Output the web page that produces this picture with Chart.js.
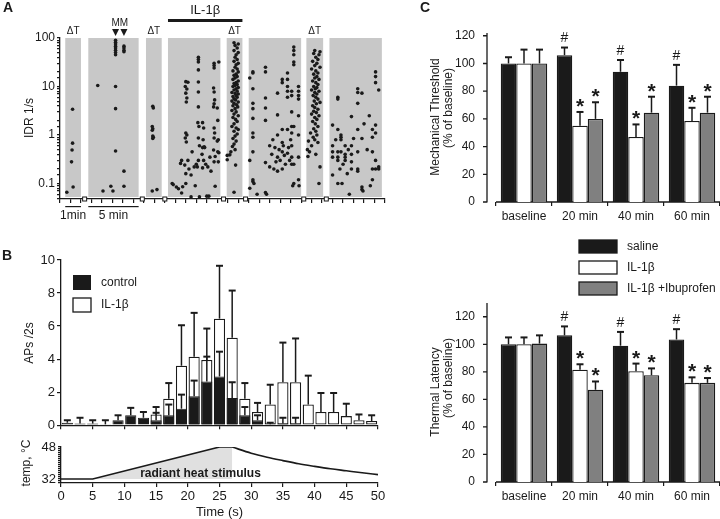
<!DOCTYPE html>
<html>
<head>
<meta charset="utf-8">
<script src="https://cdn.jsdelivr.net/npm/chart.js@4.4.0/dist/chart.umd.min.js"></script>
<style>
  html, body { margin: 0; padding: 0; background: #fff; }
  #fig { position: relative; width: 720px; height: 519px; overflow: hidden; }
  canvas { position: absolute; }
</style>
</head>
<body>
<div id="fig">
  <canvas id="chartA" width="390" height="225" style="left:0;top:0"></canvas>
  <canvas id="chartB" width="390" height="195" style="left:0;top:240px"></canvas>
  <canvas id="chartT" width="390" height="84" style="left:0;top:435px"></canvas>
  <canvas id="chartC1" width="330" height="235" style="left:390px;top:0"></canvas>
  <canvas id="chartC2" width="330" height="284" style="left:390px;top:235px"></canvas>
</div>
<script>
// ---- panel A: instantaneous discharge rate, one list of [time, IDR] per recording block
const bandStart = [0.5, 2.7, 8.2, 10.3, 15.9, 18, 23.5, 25.7];
const bandEnd = [2, 7.5, 9.7, 15.3, 17.4, 23, 25.1, 30.7];
const heatBands = [0, 2, 4, 6];

const idrBand1 = [[1.2,3.4],[1.2,0.68],[1.15,0.49],[1.1,0.28],[1.25,0.085],[0.65,0.066]];
const idrBand2 = [[3.6,10.5],[5.3,90],[5.3,82],[5.3,75],[5.3,68],[5.3,62],[5.3,56],[5.3,50],[5.3,45],
  [5.3,10],[5.3,3.5],[5.3,0.47],[6.1,68],[6.1,62],[6.1,56],[6.1,52],[6.1,0.18],[6.1,0.088],
  [4.1,0.07],[4.85,0.088],[5.05,0.07]];
const idrBand3 = [[8.85,3.9],[8.9,3.6],[8.8,1.5],[8.85,1.35],[8.8,1.25],[8.85,0.95],[8.9,0.9],[8.85,0.85],
  [8.8,0.07],[9.25,0.075]];
const idrBand4 = [[12.0,12.6],[12.2,12.2],[11.95,10],[12.1,8.9],[12.0,7.3],[12.1,5.8],[12.05,4.8],[12.0,1.1],
  [12.1,1.0],[11.95,0.87],[12.05,0.72],[12.2,0.3],[11.9,0.24],[12.3,0.2],[12.0,0.16],
  [13.2,40],[13.2,36],[13.2,32],[13.2,22],[13.2,12.4],[13.2,7.7],[13.2,3.8],[13.15,1.8],[13.25,1.5],
  [13.2,0.87],[13.3,0.6],[13.2,0.3],[13.1,0.22],
  [13.6,1.8],[13.7,1.4],[13.65,0.8],[13.75,0.57],[13.6,0.55],[13.8,0.55],[13.55,0.4],[13.7,0.3],[13.6,0.21],
  [14.7,30],[14.7,27],[14.7,24],[14.65,9.3],[14.7,7.7],[14.75,5.3],[14.7,4.4],[14.65,3.8],[14.7,1.4],
  [14.75,1.1],[14.7,0.87],[14.65,0.49],[14.8,0.36],[14.7,0.28],
  [15.15,32],[15.0,3.6],[15.05,2.0],[15.1,0.8],[15.0,0.75],[15.15,0.43],[15.05,0.45],[15.1,0.28],
  [11.6,0.3],[11.5,0.26],[12.6,0.45],[12.8,0.22],[13.0,0.25],[14.1,0.22],[14.3,0.35],[13.9,0.25],[14.4,0.18],[12.5,0.15],
  [10.7,0.1],[10.8,0.095],[11.1,0.085],[11.3,0.078],[11.6,0.064],[11.7,0.086],[12.0,0.1],[12.5,0.053],
  [12.9,0.09],[13.3,0.053],[14.0,0.055],[14.2,0.055],[14.8,0.088]];
const idrBand5 = [[16.6,80],[17.0,75],[16.7,70],[16.9,62],[16.6,55],[17.0,50],[16.8,45],[16.7,40],[16.9,36],
  [16.6,33],[17.0,30],[16.8,28],[16.7,25],[16.9,23],[16.5,21],[17.0,20],[16.8,18],[16.6,17],[16.9,16],
  [16.7,15],[16.5,14],[17.0,13],[16.8,12],[16.6,11.5],[16.9,11],[16.7,10.5],[16.5,10],[17.0,9.5],[16.8,9],
  [16.6,8.5],[16.9,8],[16.4,7.5],[16.7,7.2],[17.0,7],[16.8,6.5],[16.5,6.2],[16.9,6],[16.6,5.6],[16.75,5.3],
  [16.4,5],[17.0,4.8],[16.6,4.5],[16.85,4.2],[16.5,4],[16.95,3.8],[16.7,3.5],[16.4,3.2],[16.8,3],[16.6,2.7],
  [17.0,2.5],[16.5,2.3],[16.75,2.1],[16.9,1.9],[16.6,1.7],[16.4,1.5],[16.8,1.4],[17.0,1.3],[16.6,1.2],
  [16.9,1.05],[16.7,0.95],[16.5,0.85],[16.8,0.75],[16.6,0.65],[16.45,0.58],[16.7,0.5],[16.3,0.45],
  [16.2,0.39],[16.75,0.24],[16.6,0.066],[15.95,0.38],[15.95,0.31]];
const idrBand6 = [[18.1,15],[18.1,0.3],[18.1,0.08],
  [18.4,20],[18.4,19],[18.4,9],[18.4,4.5],[18.4,3.5],[18.4,2.2],[18.4,1.1],[18.4,0.9],[18.4,0.45],[18.4,0.12],[18.4,0.11],
  [19.6,25],[19.6,20],[19.6,5.8],[19.6,3.6],[19.6,2.0],[19.6,0.27],[19.6,0.065],
  [20.0,0.6],[20.0,0.22],[20.75,7.3],[20.75,2.6],[20.75,1.0],[20.75,0.35],[20.75,0.18],
  [21.2,14],[21.2,12],[21.2,1.3],[21.2,0.7],[21.2,0.45],[21.2,0.2],
  [21.7,19],[21.7,14],[21.7,10],[21.7,8],[21.7,6],[21.7,1.3],[21.7,0.42],
  [22.1,8],[22.1,6.5],[22.1,3],[22.1,1.5],[22.1,1.1],[22.1,0.6],[22.1,0.35],[22.1,0.25],
  [22.3,65],[22.3,55],[22.3,45],[22.3,32],[22.3,28],[22.3,1.5],[22.3,0.25],[22.3,0.1],
  [22.75,10],[22.75,8],[22.75,6.5],[22.75,5.5],[22.75,2.5],[22.75,1.0],[22.75,0.35],[22.75,0.12],
  [20.3,0.8],[20.5,0.55],[20.9,0.5],[21.0,0.3],[21.4,0.38],[21.5,0.25],[21.8,0.55],[22.0,0.8],
  [20.6,0.28],[20.2,0.4],[21.3,0.6],[21.9,0.3],[20.4,0.2],
  [18.5,0.1],[18.8,0.06],[19.7,0.06],[22.2,0.09],[22.8,0.09]];
const idrBand7 = [[24.3,55],[24.8,52],[24.2,48],[24.7,45],[24.4,40],[24.6,36],[24.1,33],[24.5,30],[24.3,27],
  [24.8,25],[24.0,23],[24.4,21],[24.6,19],[24.2,18],[24.5,16],[24.3,15],[24.7,14],[24.1,13],[24.4,12],
  [24.6,11],[24.2,10],[24.5,9.5],[24.35,9],[24.0,8.5],[24.7,8],[24.3,7.5],[24.5,7],[24.15,6.5],[24.4,6],
  [24.6,5.5],[24.25,5],[24.8,4.7],[24.45,4.4],[24.1,4],[24.3,3.7],[24.6,3.4],[24.2,3.1],[24.45,2.9],
  [24.0,2.7],[24.7,2.5],[24.3,2.3],[24.5,2.1],[24.1,1.9],[24.35,1.7],[24.6,1.5],[24.2,1.35],[24.4,1.2],
  [23.9,1.1],[24.5,1.0],[24.15,0.9],[24.3,0.8],[23.7,0.75],[24.6,0.7],[24.0,0.6],[23.6,0.5],[23.8,0.45],
  [24.4,0.4],[23.65,0.36],[24.8,0.22],[24.7,0.1]];
const idrBand8 = [[26.0,1.6],[26.0,0.6],[26.0,0.45],[26.0,0.35],[26.0,0.15],
  [26.5,6],[26.5,5.5],[26.5,1.3],[26.5,0.45],[26.5,0.35],[26.5,0.3],[26.5,0.1],
  [26.8,1.0],[26.8,0.9],[26.8,0.8],[26.8,0.45],[27.2,0.6],[27.2,0.4],[27.2,0.35],[27.2,0.3],
  [27.8,2.4],[27.8,0.6],[27.8,0.4],[27.8,0.28],[27.8,0.2],
  [28.4,9],[28.4,7.5],[28.4,4.5],[28.4,1.3],[28.4,0.45],[28.4,0.2],[28.4,0.18],
  [28.8,7.3],[28.8,0.85],[28.8,0.085],[28.8,0.075],
  [29.8,1.3],[29.8,0.9],[29.8,0.45],[29.8,0.2],[29.8,0.12],
  [30.1,20],[30.1,16],[30.1,12],[30.1,1.6],[30.1,1.1],[30.1,0.3],[30.1,0.2],
  [30.4,8.5],[30.4,0.22],[30.4,0.2],
  [26.3,0.8],[27.0,0.25],[27.5,0.5],[28.0,0.85],[29.0,1.7],[29.3,0.5],[29.5,2.5],[27.4,0.16],[26.7,0.2],
  [26.9,0.1],[27.6,0.06],[28.9,0.07],[29.6,0.09]];
const idrBands = [idrBand1, idrBand2, idrBand3, idrBand4, idrBand5, idrBand6, idrBand7, idrBand8];

// ---- panel B: APs per 2 s bin, mean and mean+SEM
const binMid = [1,3,5,7,9,11,13,15,17,19,21,23,25,27,29,31,33,35,37,39,41,43,45,47,49];
const controlMean = [0.15,0.1,0.1,0.05,0.3,0.6,0.45,0.3,0.6,1.0,1.75,2.65,2.95,1.65,0.6,0.3,0.05,0.1,0.1,null,null,null,null,null,null];
const controlTop = [0.3,0.45,0.3,0.3,0.6,1.05,0.8,0.75,1.25,1.85,2.7,4.15,4.45,2.6,1.1,0.6,0.15,0.45,0.45,null,null,null,null,null,null];
const il1Mean = [null,null,null,null,null,null,null,0.65,1.6,3.6,4.15,3.95,6.45,5.3,1.6,0.8,1.25,2.6,2.6,1.25,0.8,0.8,0.55,0.3,0.25];
const il1Top = [null,null,null,null,null,null,null,1.1,2.55,6.05,6.8,5.85,9.65,8.15,2.55,1.35,2.45,5.0,5.25,3.0,1.95,1.95,1.3,0.65,0.6];

const rampTime = [0, 5, 25, 27];
const rampTemp = [32, 32, 48, 48];
const coolTime = [27, 30, 32.5, 35, 37.5, 40, 42.5, 45, 47.5, 50];
const coolTemp = [48, 44.9, 42.9, 41.2, 39.6, 38.3, 37.1, 36.1, 35.1, 34.2];

// ---- panel C
const cCats = ['baseline', '20 min', '40 min', '60 min'];
const groupNames = ['saline', 'IL-1\u03b2', 'IL-1\u03b2 +Ibuprofen'];
const mechSaline = [100, 106, 94, 84];
const mechSalineTop = [104.5, 111.5, 102.5, 99];
const mechIL = [100, 55, 47, 58.5];
const mechILTop = [110, 65, 56, 68];
const mechIbu = [100, 60, 64.5, 64.5];
const mechIbuTop = [110, 72, 76, 76];
const thermSaline = [100, 106.5, 99, 103.5];
const thermSalineTop = [105, 113, 109, 111];
const thermIL = [100, 81.5, 80.5, 72];
const thermILTop = [105, 85.5, 86, 76];
const thermIbu = [100.5, 67, 77.5, 72];
const thermIbuTop = [106.5, 73, 82.5, 75.5];
const salineMarks = ['', '#', '#', '#'];
const drugMarks = ['', '*', '*', '*'];

const INK = '#1a1a1a';
const FONT = '"Liberation Sans", Arial, Helvetica, sans-serif';
const groupFill = ['#1a1a1a', '#ffffff', '#808080'];

Chart.defaults.font.family = FONT;
Chart.defaults.font.size = 12;
Chart.defaults.color = INK;
Chart.defaults.animation = false;
Chart.defaults.responsive = false;
Chart.defaults.devicePixelRatio = 1;
Chart.defaults.plugins.legend.display = false;
Chart.defaults.plugins.tooltip.enabled = false;

function label(ctx, text, x, y, o = {}) {
  ctx.save();
  ctx.font = (o.weight || '') + ' ' + (o.size || 12) + 'px ' + FONT;
  ctx.fillStyle = o.color || INK;
  ctx.textAlign = o.align || 'center';
  ctx.textBaseline = o.base || 'middle';
  ctx.translate(x, y);
  if (o.rotate) ctx.rotate(o.rotate);
  ctx.fillText(text, 0, 0);
  ctx.restore();
}

function errBar(ctx, x, y0, y1, half) {
  ctx.lineWidth = 1.5;
  ctx.beginPath(); ctx.moveTo(x, y0); ctx.lineTo(x, y1); ctx.stroke();
  ctx.lineWidth = 2;
  ctx.beginPath(); ctx.moveTo(x - half, y1); ctx.lineTo(x + half, y1); ctx.stroke();
}

const axisGrid = { drawOnChartArea: false, color: INK, tickColor: INK, tickLength: 4, lineWidth: 1.2 };
const axisBorder = { color: INK, width: 1.3 };

// ================= panel A =================
const panelA = {
  id: 'panelA',
  beforeDatasetsDraw(chart) {
    const { ctx, chartArea: a, scales: { x } } = chart;
    ctx.save();
    ctx.fillStyle = '#c8c8c8';
    bandStart.forEach((s, i) => {
      const x0 = x.getPixelForValue(s), x1 = x.getPixelForValue(bandEnd[i]);
      ctx.fillRect(x0, a.top, x1 - x0, a.bottom - a.top - 2);
    });
    ctx.restore();
  },
  afterDraw(chart) {
    const { ctx, chartArea: a, scales: { x } } = chart;
    const mid = i => (x.getPixelForValue(bandStart[i]) + x.getPixelForValue(bandEnd[i])) / 2;
    heatBands.forEach(i => label(ctx, '\u0394T', mid(i), a.top - 7, { size: 10 }));

    // mechanical stimulation markers
    label(ctx, 'MM', x.getPixelForValue(5.7), a.top - 15, { size: 10 });
    ctx.save();
    ctx.fillStyle = INK;
    [5.3, 6.1].forEach(v => {
      const px = x.getPixelForValue(v);
      ctx.beginPath();
      ctx.moveTo(px - 3.5, a.top - 9); ctx.lineTo(px + 3.5, a.top - 9); ctx.lineTo(px, a.top - 2);
      ctx.closePath(); ctx.fill();
    });

    // IL-1b application bar
    const i0 = x.getPixelForValue(bandStart[3]), i1 = x.getPixelForValue(bandEnd[4]);
    ctx.fillRect(i0, 19, i1 - i0, 3);
    label(ctx, 'IL-1\u03b2', (i0 + i1) / 2, 10, { size: 13 });

    // time scale bars
    ctx.fillRect(x.getPixelForValue(bandStart[0]), 206, x.getPixelForValue(bandEnd[0]) - x.getPixelForValue(bandStart[0]), 1.2);
    ctx.fillRect(x.getPixelForValue(bandStart[1]), 206, x.getPixelForValue(bandEnd[1]) - x.getPixelForValue(bandStart[1]), 1.2);
    label(ctx, '1min', mid(0), 216, { size: 12 });
    label(ctx, '5 min', mid(1), 216, { size: 12 });

    // axis breaks between blocks
    ctx.strokeStyle = INK; ctx.lineWidth = 1;
    for (let i = 0; i < bandStart.length - 1; i++) {
      const px = x.getPixelForValue((bandEnd[i] + bandStart[i + 1]) / 2);
      ctx.fillStyle = '#fff';
      ctx.fillRect(px - 2, a.bottom - 2, 4, 4);
      ctx.strokeRect(px - 2, a.bottom - 2, 4, 4);
    }
    ctx.restore();

    label(ctx, 'IDR 1/s', 30, 118, { size: 12, rotate: -Math.PI / 2 });
    label(ctx, 'A', 3, 8, { size: 14, weight: 'bold', align: 'left' });
  }
};

new Chart(document.getElementById('chartA'), {
  type: 'scatter',
  data: {
    datasets: idrBands.map(b => ({
      data: b.map(p => ({ x: p[0], y: p[1] })),
      pointRadius: 1.8, pointBackgroundColor: INK, pointBorderWidth: 0
    }))
  },
  options: {
    layout: { padding: { top: 38, right: 5, left: 0, bottom: 0 } },
    scales: {
      x: {
        type: 'linear', min: 0, max: 31,
        ticks: { stepSize: 1, callback: () => '' },
        grid: axisGrid, border: axisBorder,
        afterFit: s => { s.height = 26; }
      },
      y: {
        type: 'logarithmic', min: 0.048, max: 100,
        ticks: {
          autoSkip: false, padding: 2, font: { size: 12 },
          callback: v => {
            const l = Math.log10(v);
            if (Math.abs(l - Math.round(l)) > 1e-6) return '';
            return l >= 0 ? String(Math.round(v)) : v.toFixed(-Math.round(l));
          }
        },
        grid: { ...axisGrid, tickLength: 3 }, border: axisBorder,
        afterFit: s => { s.width = 60; }
      }
    }
  },
  plugins: [panelA]
});

// ================= panel B =================
const panelB = {
  id: 'panelB',
  afterDatasetsDraw(chart) {
    const { ctx, scales: { y } } = chart;
    ctx.save();
    ctx.strokeStyle = INK;
    [[1, il1Top], [0, controlTop]].forEach(([di, tops]) => {
      chart.getDatasetMeta(di).data.forEach((bar, j) => {
        if (tops[j] == null) return;
        errBar(ctx, bar.x, bar.y, y.getPixelForValue(tops[j]), 3.5);
      });
    });
    // legend
    ctx.fillStyle = INK; ctx.fillRect(73, 35, 18, 15);
    ctx.fillStyle = '#fff'; ctx.lineWidth = 1.3;
    ctx.fillRect(73, 58, 18, 14); ctx.strokeRect(73, 58, 18, 14);
    ctx.restore();
    label(ctx, 'control', 101, 43, { size: 12, align: 'left' });
    label(ctx, 'IL-1\u03b2', 101, 65, { size: 12, align: 'left' });
    label(ctx, 'APs /2s', 30, 103, { size: 12, rotate: -Math.PI / 2 });
    label(ctx, 'B', 2, 16, { size: 14, weight: 'bold', align: 'left' });
  }
};

new Chart(document.getElementById('chartB'), {
  type: 'bar',
  data: {
    datasets: [
      { data: binMid.map((t, i) => ({ x: t, y: controlMean[i] })), backgroundColor: INK,
        borderColor: INK, borderWidth: 1, order: 0 },
      { data: binMid.map((t, i) => ({ x: t, y: il1Mean[i] })), backgroundColor: '#fff',
        borderColor: INK, borderWidth: 1.3, borderSkipped: false, order: 1 }
    ]
  },
  options: {
    layout: { padding: { top: 20, right: 12, left: 0, bottom: 0 } },
    datasets: { bar: { grouped: false, categoryPercentage: 0.88, barPercentage: 1 } },
    scales: {
      x: {
        type: 'linear', min: 0, max: 50, offset: false,
        ticks: { stepSize: 5, callback: () => '' },
        grid: { ...axisGrid, offset: false }, border: axisBorder,
        afterFit: s => { s.height = 9; }
      },
      y: {
        min: 0, max: 10,
        ticks: { stepSize: 1, padding: 2, font: { size: 13 }, callback: v => (v % 2 === 0 ? v : '') },
        grid: axisGrid, border: axisBorder,
        afterFit: s => { s.width = 61; }
      }
    }
  },
  plugins: [panelB]
});

// temperature trace
const panelT = {
  id: 'panelT',
  afterDraw(chart) {
    const { ctx, scales: { x } } = chart;
    label(ctx, 'radiant heat stimulus', x.getPixelForValue(22), 39, { size: 12, weight: 'bold' });
    label(ctx, 'temp, \u00b0C', 27, 28, { size: 12, rotate: -Math.PI / 2 });
    label(ctx, 'Time (s)', x.getPixelForValue(25), 77, { size: 13 });
  }
};

new Chart(document.getElementById('chartT'), {
  type: 'line',
  data: {
    datasets: [
      { data: rampTime.slice(1).map((t, i) => ({ x: t, y: rampTemp[i + 1] })), fill: { value: 32 },
        backgroundColor: '#e0e0e0', borderWidth: 0, pointRadius: 0, order: 2 },
      { data: rampTime.map((t, i) => ({ x: t, y: rampTemp[i] })), borderColor: INK,
        borderWidth: 1.6, pointRadius: 0, tension: 0, order: 1 },
      { data: coolTime.map((t, i) => ({ x: t, y: coolTemp[i] })), borderColor: INK,
        borderWidth: 1.6, pointRadius: 0, cubicInterpolationMode: 'monotone', order: 0 }
    ]
  },
  options: {
    layout: { padding: { top: 12, right: 12, left: 0, bottom: 0 } },
    scales: {
      x: {
        type: 'linear', min: 0, max: 50,
        ticks: { stepSize: 5, padding: 2, font: { size: 13 } },
        grid: axisGrid, border: axisBorder,
        afterFit: s => { s.height = 36; }
      },
      y: {
        min: 30, max: 48,
        ticks: { stepSize: 1, padding: 2, autoSkip: false, font: { size: 13 },
          callback: v => (v === 32 || v === 48 ? v : '') },
        grid: { ...axisGrid, tickLength: 3 }, border: axisBorder,
        afterFit: s => { s.width = 61; }
      }
    }
  },
  plugins: [panelT]
});

// ================= panel C =================
function makePanelC(tops, title, titleY, extra) {
  return {
    id: 'panelC',
    beforeDatasetsDraw(chart) {
      const { ctx, chartArea: a, scales: { y } } = chart;
      const ax = a.left - 9;
      ctx.save();
      ctx.strokeStyle = INK; ctx.lineWidth = 1.3;
      ctx.beginPath();
      ctx.moveTo(ax, a.top); ctx.lineTo(ax, a.bottom + 0.5);
      y.ticks.forEach(t => {
        const py = y.getPixelForValue(t.value);
        ctx.moveTo(ax - 4, py); ctx.lineTo(ax, py);
      });
      ctx.moveTo(a.left, a.bottom); ctx.lineTo(a.right, a.bottom);
      ctx.stroke();
      ctx.restore();
    },
    afterDatasetsDraw(chart) {
      const { ctx, scales: { y } } = chart;
      ctx.save();
      ctx.strokeStyle = INK;
      tops.forEach((top, di) => {
        chart.getDatasetMeta(di).data.forEach((bar, j) => {
          const py = y.getPixelForValue(top[j]);
          errBar(ctx, bar.x, bar.y, py, 3.5);
          const m = di === 0 ? salineMarks[j] : drugMarks[j];
          if (m === '#') label(ctx, m, bar.x, py - 9, { size: 14 });
          if (m === '*') label(ctx, m, bar.x, py + 1, { size: 21, weight: 'bold', base: 'alphabetic' });
        });
      });
      ctx.restore();
      label(ctx, title, 46, titleY[0], { size: 12, rotate: -Math.PI / 2 });
      label(ctx, '(% of baseline)', 59, titleY[1], { size: 12, rotate: -Math.PI / 2 });
      if (extra) extra(chart);
    }
  };
}

function cOptions(max, top, bottom) {
  return {
    layout: { padding: { top: top, right: 0, left: 0, bottom: 0 } },
    datasets: { bar: { categoryPercentage: 0.83, barPercentage: 1 } },
    scales: {
      x: {
        offset: true,
        ticks: { padding: 3, font: { size: 12 } },
        grid: { ...axisGrid, offset: true, tickLength: 4 },
        border: { display: false },
        afterFit: s => { s.height = bottom; }
      },
      y: {
        min: 0, max: max,
        ticks: { stepSize: 20, includeBounds: false, padding: 13, font: { size: 12 } },
        grid: { display: false }, border: { display: false },
        afterFit: s => { s.width = 106; }
      }
    }
  };
}

function cDatasets(vals) {
  return vals.map((v, i) => ({
    label: groupNames[i], data: v, backgroundColor: groupFill[i],
    borderColor: INK, borderWidth: 1.3, borderSkipped: 'start'
  }));
}

new Chart(document.getElementById('chartC1'), {
  type: 'bar',
  data: { labels: cCats, datasets: cDatasets([mechSaline, mechIL, mechIbu]) },
  options: cOptions(122, 33, 33),
  plugins: [makePanelC([mechSalineTop, mechILTop, mechIbuTop], 'Mechanical Threshold', [117, 108],
    chart => label(chart.ctx, 'C', 30, 8, { size: 14, weight: 'bold', align: 'left' }))]
});

new Chart(document.getElementById('chartC2'), {
  type: 'bar',
  data: { labels: cCats, datasets: cDatasets([thermSaline, thermIL, thermIbu]) },
  options: cOptions(130, 68, 37),
  plugins: [makePanelC([thermSalineTop, thermILTop, thermIbuTop], 'Thermal Latency', [157, 143], chart => {
    const ctx = chart.ctx;
    ctx.save();
    ctx.strokeStyle = INK; ctx.lineWidth = 1.3;
    [5, 26, 47].forEach((yy, i) => {
      ctx.fillStyle = groupFill[i];
      ctx.fillRect(189, yy, 38, 13);
      ctx.strokeRect(189, yy, 38, 13);
      label(ctx, groupNames[i], 237, yy + 7, { size: 12, align: 'left' });
    });
    ctx.restore();
  })]
});
</script>
</body>
</html>
